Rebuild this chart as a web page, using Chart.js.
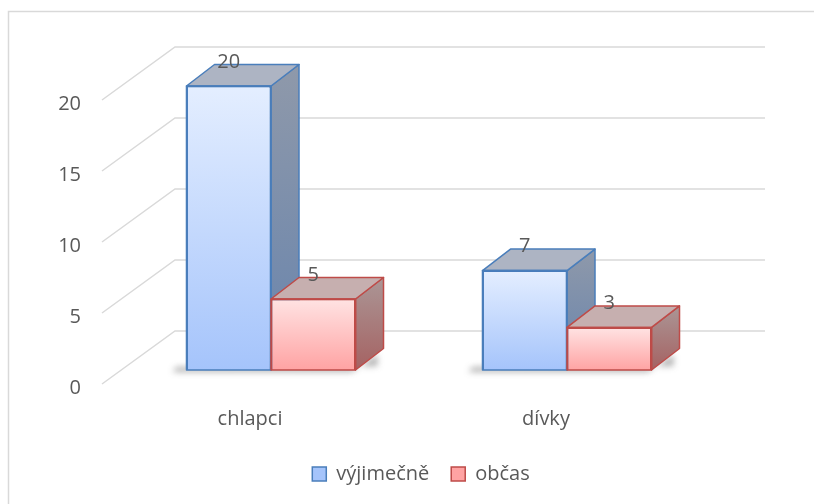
<!DOCTYPE html>
<html><head><meta charset="utf-8">
<script src="https://cdn.jsdelivr.net/npm/chart.js@4"></script>
<style>html,body{margin:0;padding:0;background:#fff}#wrap{width:814px;height:504px;position:relative}</style>
</head><body><div id="wrap"><canvas id="c" width="814" height="504"></canvas></div>
<script>
const categories = ['chlapci', 'dívky'];
const seriesNames = ['výjimečně', 'občas'];
const vyjimecne = [20, 7];
const obcas = [5, 3];
const yTicks = [0, 5, 10, 15, 20];

const DX = 28, DY = -21.5;               // bar depth (perspective)
const WB = {dx: 52, dy: -39};            // back wall offset
const WF = {dx: -21, dy: 14};            // front wall edge offset
const FONT = 'Open Sans';
const TXT = '#595959';

const styles = [
  {front:['#e4eeff','#a5c4fb'], side:['#8f99aa','#6884ad'], top:'#adb4c3', border:'#4a7ebb', legend:'#d3e2fb'},
  {front:['#ffe3e3','#ffa3a3'], side:['#ab9696','#a56262'], top:'#c6afaf', border:'#be4b48', legend:'#fdd3d3'}
];

function frontFill(i) {
  return (c) => {
    const y = c.chart.scales && c.chart.scales.y;
    if (c.type !== 'data' || !y) return styles[i].legend;
    const top = y.getPixelForValue(c.raw), bot = y.getPixelForValue(0);
    if (!isFinite(top) || !isFinite(bot) || top === bot) return styles[i].legend;
    const g = c.chart.ctx.createLinearGradient(0, top, 0, bot);
    g.addColorStop(0, styles[i].front[0]);
    g.addColorStop(1, styles[i].front[1]);
    return g;
  };
}

const bar3d = {
  id: 'bar3d',
  beforeDraw(chart) {
    const ctx = chart.ctx;
    ctx.save();
    ctx.strokeStyle = '#d9d9d9';
    ctx.lineWidth = 1.5;
    ctx.beginPath();
    ctx.moveTo(8.5, 504); ctx.lineTo(8.5, 11.5); ctx.lineTo(814, 11.5);
    ctx.stroke();
    ctx.restore();
  },
  beforeDatasetsDraw(chart) {
    const ctx = chart.ctx, ys = chart.scales.y, a = chart.chartArea;
    ctx.save();
    ctx.strokeStyle = '#d9d9d9';
    ctx.lineWidth = 1.5;
    yTicks.forEach(v => {
      const y = ys.getPixelForValue(v);
      ctx.beginPath();
      ctx.moveTo(a.left + WF.dx, y + WF.dy);
      ctx.lineTo(a.left + WB.dx, y + WB.dy);
      ctx.lineTo(a.right + WB.dx - 2, y + WB.dy);
      ctx.stroke();
    });
    const m0 = chart.getDatasetMeta(0), m1 = chart.getDatasetMeta(1);
    ctx.filter = 'blur(3px)';
    ctx.fillStyle = 'rgba(60,60,60,0.4)';
    m0.data.forEach((el, i) => {
      const el2 = m1.data[i];
      const L = el.x - el.width / 2, R = el2.x + el2.width / 2, B = el.base;
      ctx.beginPath();
      ctx.moveTo(L - 14, B + 2);
      ctx.lineTo(R - 4, B + 2);
      ctx.lineTo(R + DX - 6, B + DY + 6);
      ctx.lineTo(R + DX - 6, B - 4);
      ctx.lineTo(L - 10, B - 3);
      ctx.closePath();
      ctx.fill();
    });
    ctx.restore();
  },
  afterDatasetsDraw(chart) {
    const ctx = chart.ctx;
    const metas = chart.data.datasets.map((d, i) => chart.getDatasetMeta(i));
    ctx.save();
    categories.forEach((cat, i) => {
      metas.forEach((meta, di) => {
        const el = meta.data[i], st = styles[di];
        el.draw(ctx);
        const L = el.x - el.width / 2, R = el.x + el.width / 2, T = el.y, B = el.base;
        ctx.lineWidth = 1.5;
        ctx.lineJoin = 'round';
        ctx.strokeStyle = st.border;
        const g = ctx.createLinearGradient(0, T + DY, 0, B);
        g.addColorStop(0, st.side[0]); g.addColorStop(1, st.side[1]);
        ctx.fillStyle = g;
        ctx.beginPath();
        ctx.moveTo(R, T); ctx.lineTo(R + DX, T + DY); ctx.lineTo(R + DX, B + DY); ctx.lineTo(R, B);
        ctx.closePath(); ctx.fill(); ctx.stroke();
        ctx.fillStyle = st.top;
        ctx.beginPath();
        ctx.moveTo(L, T); ctx.lineTo(L + DX, T + DY); ctx.lineTo(R + DX, T + DY); ctx.lineTo(R, T);
        ctx.closePath(); ctx.fill(); ctx.stroke();
        ctx.strokeRect(L, T, R - L, B - T);
      });
    });
    ctx.fillStyle = TXT;
    ctx.font = '20px "' + FONT + '"';
    ctx.textAlign = 'center';
    ctx.textBaseline = 'middle';
    metas.forEach((meta, di) => {
      meta.data.forEach((el, i) => {
        ctx.fillText(String(chart.data.datasets[di].data[i]), el.x, el.y - 24);
      });
    });
    ctx.restore();
  }
};

new Chart(document.getElementById('c'), {
  type: 'bar',
  data: {
    labels: categories,
    datasets: [
      {label: seriesNames[0], data: vyjimecne, backgroundColor: frontFill(0), borderColor: styles[0].border, borderWidth: 1.5, barPercentage: 1, categoryPercentage: 0.571},
      {label: seriesNames[1], data: obcas, backgroundColor: frontFill(1), borderColor: styles[1].border, borderWidth: 1.5, barPercentage: 1, categoryPercentage: 0.571}
    ]
  },
  options: {
    responsive: false,
    animation: false,
    events: [],
    layout: {padding: {left: 28, right: 0, top: 86, bottom: 10}},
    plugins: {
      tooltip: {enabled: false},
      legend: {
        position: 'bottom',
        labels: {boxWidth: 14, boxHeight: 14, padding: 22, color: TXT, font: {family: FONT, size: 20}}
      }
    },
    scales: {
      x: {
        grid: {display: false, drawTicks: false}, border: {display: false},
        ticks: {color: TXT, font: {family: FONT, size: 20}, padding: 37, labelOffset: -21},
        afterFit(s) { s.height = 72; }
      },
      y: {
        min: 0, max: 20,
        grid: {display: false, drawTicks: false}, border: {display: false},
        ticks: {stepSize: 5, color: TXT, font: {family: FONT, size: 20}, padding: 42, labelOffset: 18},
        afterFit(s) { s.width = 95; }
      },
      yRight: {
        position: 'right',
        grid: {display: false, drawTicks: false}, border: {display: false},
        ticks: {display: false},
        afterFit(s) { s.width = 99; }
      }
    }
  },
  plugins: [bar3d]
});
</script></body></html>
